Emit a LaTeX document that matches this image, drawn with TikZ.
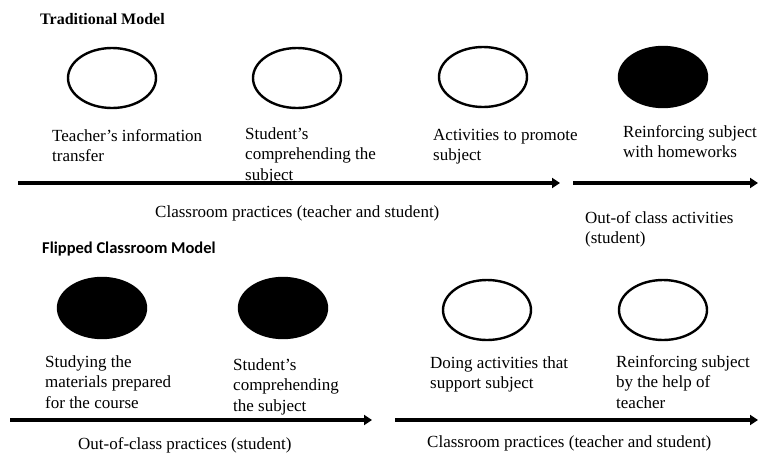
\documentclass[tikz,border=0pt]{standalone}
\usepackage{fontspec}
\setmainfont{Liberation Serif}
\newfontfamily\calfont{Carlito}
\usetikzlibrary{arrows.meta,shapes.geometric}
\begin{document}
\begin{tikzpicture}[x=1pt,y=-1pt,
  oval/.style={ellipse, draw, line width=2.4pt, minimum width=88pt, minimum height=60pt, inner sep=0pt},
  filledoval/.style={oval, fill=black},
  lbl/.style={anchor=base west, align=left, inner sep=0pt, font=\fontsize{17}{20.5}\selectfont},
  ttl/.style={anchor=base west, inner sep=0pt, font=\fontsize{16}{19}\selectfont\bfseries},
  flow/.style={line width=3.6pt, -{Triangle[length=8pt,width=10pt]}, shorten >=-2pt}
]
\useasboundingbox[fill=white] (0,0) rectangle (763,459);

% Traditional model
\node[ttl] (t0) at (40,24) {Traditional Model};
\node[oval] (t1) at (112,78) {};
\node[oval] (t2) at (297,78) {};
\node[oval] (t3) at (483,77) {};
\node[filledoval] (t4) at (663,77) {};

% base anchor = baseline of the last line
\node[lbl] (tl1) at (52,161.5) {Teacher's information\\transfer};
\node[lbl] (tl2) at (245,180) {Student's\\comprehending the\\subject};
\node[lbl] (tl3) at (433,160.5) {Activities to promote\\subject};
\node[lbl] (tl4) at (623,157.5) {Reinforcing subject\\with homeworks};

\coordinate (ta1s) at (18,183);
\coordinate (ta1e) at (558,183);
\coordinate (ta2s) at (573,183);
\coordinate (ta2e) at (756,183);
\draw[flow] (ta1s) -- (ta1e);
\draw[flow] (ta2s) -- (ta2e);

\node[lbl] (tc) at (155,217) {Classroom practices (teacher and student)};
\node[lbl] (to) at (585,243.5) {Out-of class activities\\(student)};

% Flipped classroom model
\node[ttl, font=\fontsize{16.5}{19}\selectfont\calfont\bfseries] (f0) at (42,253) {Flipped Classroom Model};
\node[filledoval] (f1) at (102,308) {};
\node[filledoval] (f2) at (283,308) {};
\node[oval] (f3) at (487,310) {};
\node[oval] (f4) at (663,310) {};

\node[lbl] (fl1) at (45,408) {Studying the\\materials prepared\\for the course};
\node[lbl] (fl2) at (233,411) {Student's\\comprehending\\the subject};
\node[lbl] (fl3) at (430,388.5) {Doing activities that\\support subject};
\node[lbl] (fl4) at (616,408) {Reinforcing subject\\by the help of\\teacher};

\coordinate (fa1s) at (10,420);
\coordinate (fa1e) at (370,420);
\coordinate (fa2s) at (395,420);
\coordinate (fa2e) at (756,420);
\draw[flow] (fa1s) -- (fa1e);
\draw[flow] (fa2s) -- (fa2e);

\node[lbl] (fo) at (78,449) {Out-of-class practices (student)};
\node[lbl] (fc) at (427,447) {Classroom practices (teacher and student)};
\end{tikzpicture}
\end{document}
